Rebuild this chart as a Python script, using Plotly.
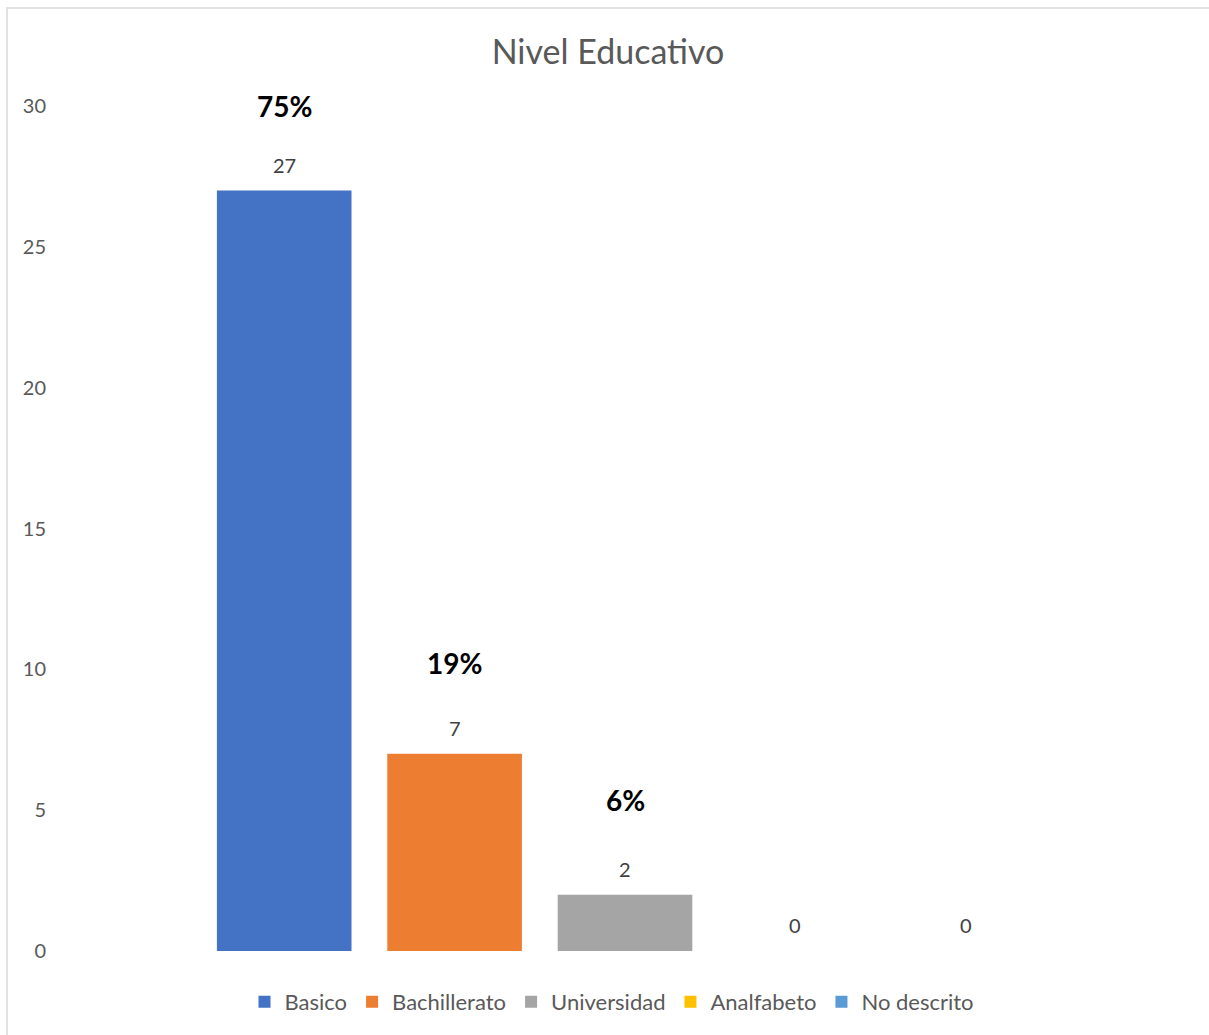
import plotly.graph_objects as go

# Nivel educativo: number of people per category
categorias = ["Basico", "Bachillerato", "Universidad", "Analfabeto", "No descrito"]
valores = [27, 7, 2, 0, 0]
colores = ["#4472C4", "#ED7D31", "#A5A5A5", "#FFC000", "#5B9BD5"]
y_ticks = [0, 5, 10, 15, 20, 25, 30]

# vertical offset (px) of the bold share label above each bar top
pct_shift = [85, 91, 95, 90, 90]

W, H = 1209, 1035
L, R, T, B = 199, 158, 106, 84
FONT = "Lato, 'Open Sans', sans-serif"

total = sum(valores)

fig = go.Figure()
for cat, val, col in zip(categorias, valores, colores):
    fig.add_trace(go.Bar(
        x=[cat], y=[val], name=cat,
        marker=dict(color=col, line=dict(width=0)),
        width=0.79,
    ))

annotations = []
for cat, val, sh in zip(categorias, valores, pct_shift):
    # value label above each bar
    annotations.append(dict(
        x=cat, y=val, xref="x", yref="y", text=str(val), showarrow=False,
        yshift=26, font=dict(size=20, color="#404040", family=FONT),
    ))
    # share of total, bold, above the value label
    if val > 0:
        annotations.append(dict(
            x=cat, y=val, xref="x", yref="y",
            text=f"<b>{round(100 * val / total)}%</b>", showarrow=False,
            yshift=sh, font=dict(size=28, color="#000000", family=FONT),
        ))

plot_w = W - L - R
plot_h = H - T - B
fig.update_layout(
    width=W, height=H,
    margin=dict(l=L, r=R, t=T, b=B),
    paper_bgcolor="white", plot_bgcolor="white",
    barmode="overlay",
    title=dict(
        text="Nivel Educativo", x=608 / W, xref="container",
        y=1 - 52 / H, yref="container", xanchor="center", yanchor="middle",
        font=dict(size=34, color="#595959", family=FONT),
    ),
    xaxis=dict(showticklabels=False, showgrid=False, zeroline=False,
               showline=False, ticks="", categoryorder="array",
               categoryarray=categorias, range=[-0.5, 4.5]),
    yaxis=dict(range=[0, 30], tickvals=y_ticks, showgrid=False, zeroline=False,
               showline=False, ticks="", ticklabelstandoff=152,
               tickfont=dict(size=20, color="#595959", family=FONT)),
    legend=dict(orientation="h", xref="container", yref="container",
                x=612 / W, y=1 - 1002 / H, xanchor="center", yanchor="middle",
                font=dict(size=22, color="#595959", family=FONT),
                itemwidth=30, traceorder="normal"),
    annotations=annotations,
    shapes=[dict(
        type="rect", xref="paper", yref="paper", layer="below",
        x0=(7 - L) / plot_w, x1=(W + 20 - L) / plot_w,
        y0=(H - B - (H + 20)) / plot_h, y1=(H - B - 8) / plot_h,
        line=dict(color="#D9D9D9", width=1.5), fillcolor="rgba(0,0,0,0)",
    )],
    showlegend=True,
)

fig.write_html("out.html")
